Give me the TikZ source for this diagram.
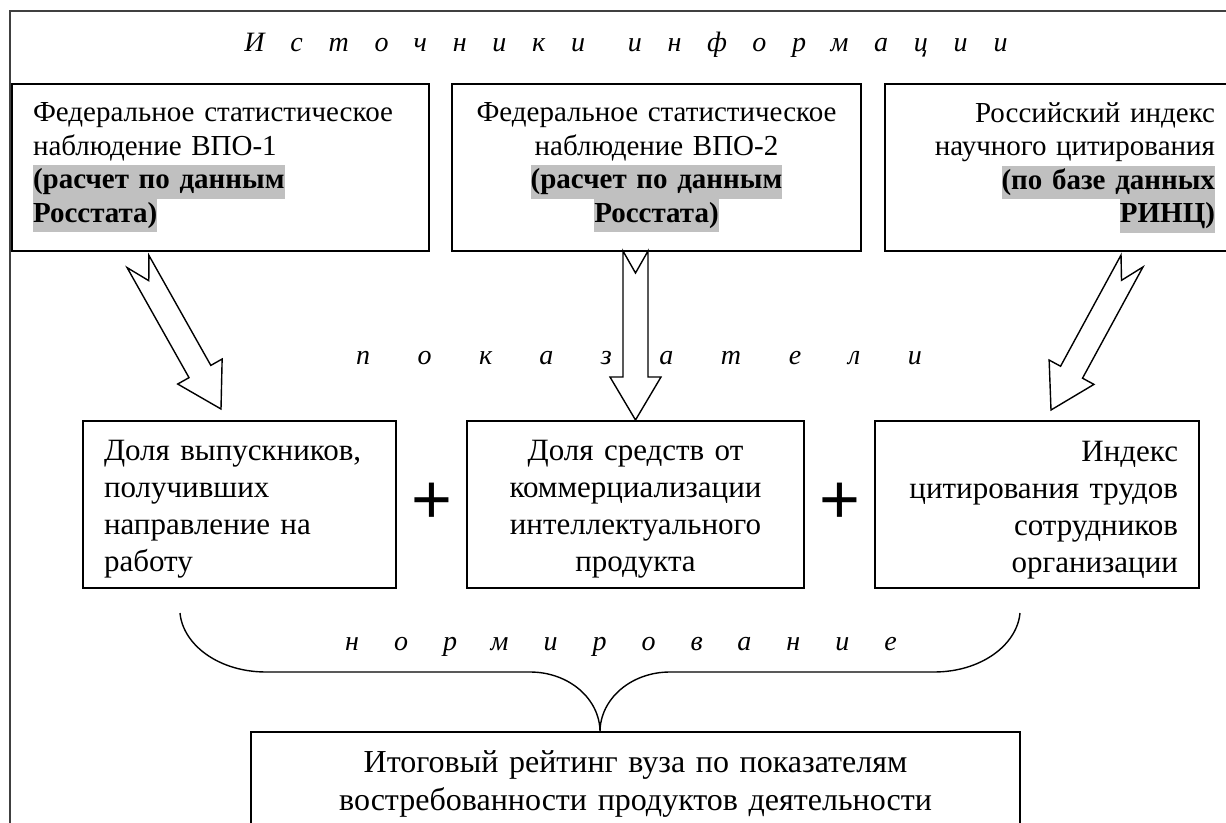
\documentclass[tikz,border=0pt]{standalone}
\usepackage{fontspec}
\setmainfont{Liberation Serif}
\newfontfamily\plusfont{Liberation Sans}
\usetikzlibrary{calc}

\definecolor{hlgray}{RGB}{192,192,192}
% выделение серым (как маркер в Word)
\newcommand{\hl}[1]{{\setlength{\fboxsep}{0pt}\colorbox{hlgray}{\strut\textbf{#1}}}}
% отступ сверху для первой строки показателей
\newcommand{\topgap}{\rule{0pt}{15.3pt}}

\begin{document}
\begin{tikzpicture}[x=0.5pt, y=-0.5pt,
  box/.style={draw, line width=0.9pt, inner xsep=10.5pt, inner ysep=0pt, minimum height=83.5pt},
  srcfont/.style={font=\fontsize{14.5}{16.75}\selectfont},
  indfont/.style={font=\fontsize{15.5}{18.5}\selectfont},
  resfont/.style={font=\fontsize{16}{19}\selectfont},
  spaced/.style={font={\fontsize{14}{16}\selectfont\itshape\addfontfeature{LetterSpace=#1}}},
  plus/.style={font=\plusfont\fontsize{35}{40}\selectfont, inner sep=0pt},
  blockarrow/.style={draw, fill=white, line width=0.7pt, line join=miter},
  frame/.style={draw=black!75, line width=0.75pt},
  brace/.style={line width=0.7pt}]

  % параметры полых стрелок (pt)
  \def\shaftw{6.25pt}
  \def\headw{12.75pt}
  \def\headlen{21.5pt}
  \def\notch{11pt}

  \newcommand{\hollowarrow}[2]{%
    \coordinate (hb) at ($(#2)!\headlen!(#1)$);
    \draw[blockarrow] ($(#1)!\shaftw!90:(#2)$) -- ($(#1)!\notch!(#2)$) -- ($(#1)!\shaftw!-90:(#2)$)
      -- ($(hb)!\shaftw!-90:(#2)$) -- ($(hb)!\headw!-90:(#2)$) -- (#2)
      -- ($(hb)!\headw!90:(#2)$) -- ($(hb)!\shaftw!90:(#2)$) -- cycle;
  }

  \useasboundingbox (0,0) rectangle (1226,823);
  \clip (0,0) rectangle (1226,823);

  % 1. внешняя рамка
  \draw[frame] (10,11) rectangle (1240,840);

  % 2. источники информации
  \node[spaced=92] (title) at (626,45) {Источники\hspace{5pt} информации};

  \node[box, srcfont, text width=187.5pt, align=left] (srcA) at (220.5,167.5)
    {Федеральное статистическое\\ наблюдение ВПО-1\\ \hl{(расчет по данным}\\ \hl{Росстата)}};
  \node[box, srcfont, text width=183.5pt, align=center] (srcB) at (656.5,167.5)
    {Федеральное статистическое\\ наблюдение ВПО-2\\ \hl{(расчет по данным}\\ \hl{Росстата)}};
  \node[box, srcfont, text width=154.5pt, align=right] (srcC) at (1060.5,167.5)
    {Российский индекс\\ научного цитирования\\ \hl{(по базе данных}\\ \hl{РИНЦ)}};

  % 3. стрелки к показателям
  \coordinate (tailA) at (138,261.5);
  \coordinate (tipA) at (221,409);
  \coordinate (tailB) at (635.5,251);
  \coordinate (tipB) at (635.5,420);
  \coordinate (tailC) at (1132,261);
  \coordinate (tipC) at (1051,410);
  \hollowarrow{tailA}{tipA}
  \hollowarrow{tailB}{tipB}
  \hollowarrow{tailC}{tipC}

  \node[spaced=170] (lblpok) at (639,358) {показатели};

  % 4. показатели
  \node[box, indfont, text width=135.5pt, align=left] (indA) at (239.5,504.5)
    {\topgap Доля выпускников,\\ получивших\\ направление на\\ работу};
  \node[box, indfont, text width=147.5pt, align=center] (indB) at (635.5,504.5)
    {\topgap Доля средств от\\ коммерциализации\\ интеллектуального\\ продукта};
  \node[box, indfont, text width=141pt, align=right] (indC) at (1037,504.5)
    {\topgap Индекс\\ цитирования трудов\\ сотрудников\\ организации};

  \node[plus] (plusA) at (431.5,503) {+};
  \node[plus] (plusB) at (839.5,503) {+};

  % 5. нормирование (фигурная скобка)
  \node[spaced=125] (lblnorm) at (621,647) {нормирование};
  \coordinate (brL) at (180,613);
  \coordinate (brR) at (1020,613);
  \coordinate (brC) at (600,732);
  \draw[brace] (brL) .. controls (183,645) and (219,672) .. (266,672) -- (530,672)
    .. controls (569,672) and (600,699) .. (brC)
    .. controls (600,699) and (631,672) .. (670,672) -- (934,672)
    .. controls (981,672) and (1017,645) .. (brR);

  % 6. итоговый рейтинг
  \node[box, resfont, text width=363.5pt, align=center, minimum height=52pt] (rating) at (635.5,784)
    {Итоговый рейтинг вуза по показателям\\ востребованности продуктов деятельности};

\end{tikzpicture}
\end{document}
